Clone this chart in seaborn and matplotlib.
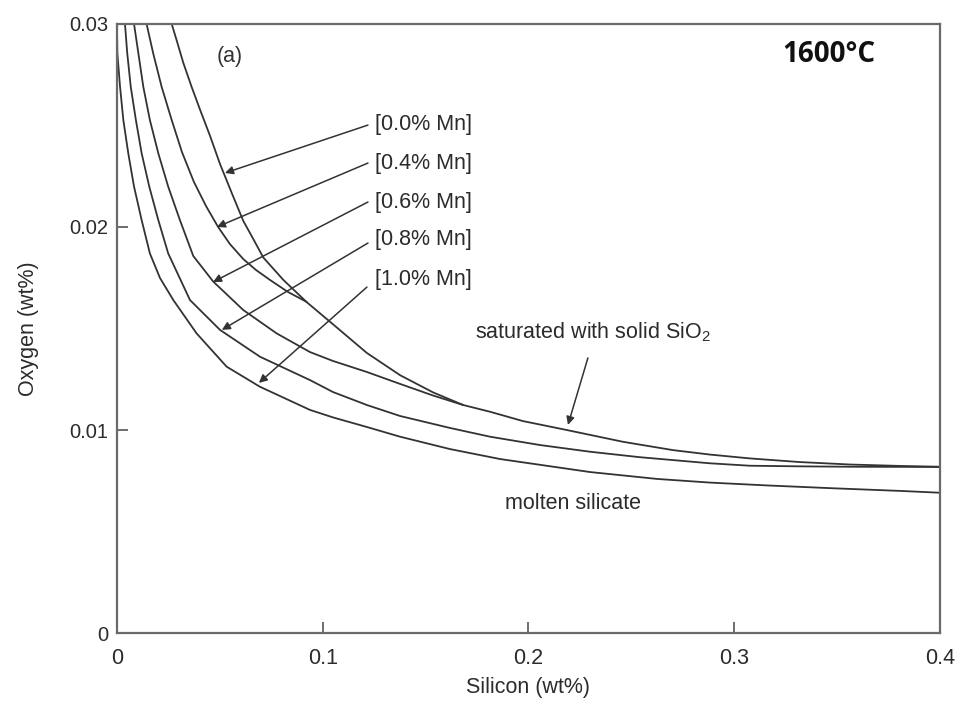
import matplotlib
matplotlib.use("Agg")
import matplotlib.pyplot as plt
from matplotlib import font_manager
import numpy as np
import pandas as pd
import seaborn as sns

# values: Si (wt%) and O (wt%) along each curve
si_mn00 = [0.0266, 0.0290, 0.0322, 0.0363, 0.0403, 0.0452, 0.0501, 0.0565, 0.0614, 0.0663,
           0.0711, 0.0808, 0.0922, 0.1051, 0.1214, 0.1376, 0.1537, 0.1683, 0.1813, 0.1973,
           0.2186, 0.2459, 0.2702, 0.2882, 0.3077, 0.3320, 0.3563, 0.3806, 0.4000]
o_mn00 = [0.0300, 0.0292, 0.0281, 0.0269, 0.0258, 0.0245, 0.0231, 0.0215, 0.0203, 0.0194,
          0.0185, 0.0174, 0.0163, 0.0152, 0.0138, 0.0127, 0.01185, 0.01123, 0.0109, 0.01044,
          0.0100, 0.00942, 0.00901, 0.00879, 0.0086, 0.00842, 0.0083, 0.00823, 0.00819]

si_mn04 = [0.0144, 0.0176, 0.0217, 0.0266, 0.0316, 0.0374, 0.0433, 0.0491, 0.0549, 0.0614,
           0.0676, 0.0744, 0.0831, 0.0922]
o_mn04 = [0.0300, 0.02856, 0.02691, 0.02527, 0.02369, 0.02222, 0.02103, 0.02001, 0.01916, 0.01842,
          0.01788, 0.01739, 0.0168, 0.01631]

si_mn06 = [0.0083, 0.0104, 0.0128, 0.0160, 0.0201, 0.0249, 0.0306, 0.0371, 0.0468, 0.0614,
           0.0776, 0.0938, 0.1050, 0.1214, 0.1376, 0.1536, 0.1683]
o_mn06 = [0.0300, 0.02856, 0.02691, 0.02527, 0.02363, 0.02199, 0.02034, 0.01857, 0.01731, 0.01591,
          0.01476, 0.01384, 0.0134, 0.01286, 0.01227, 0.0117, 0.01123]

si_mn08 = [0.0039, 0.0050, 0.0067, 0.0092, 0.0120, 0.0157, 0.0201, 0.0249, 0.0355, 0.0501,
           0.0695, 0.0938, 0.1050, 0.1215, 0.1376, 0.1619, 0.1813, 0.2056, 0.2299, 0.2542,
           0.2882, 0.3077, 0.3320, 0.3563, 0.4000]
o_mn08 = [0.0300, 0.02856, 0.02691, 0.02527, 0.02363, 0.02199, 0.02034, 0.0187, 0.0164, 0.01493,
          0.01361, 0.01246, 0.01187, 0.01123, 0.01069, 0.0101, 0.00967, 0.00926, 0.00893, 0.00866,
          0.00836, 0.00824, 0.00821, 0.00819, 0.00818]

si_mn10 = [0.0000, 0.0002, 0.0015, 0.0031, 0.0055, 0.0083, 0.0120, 0.0160, 0.0209, 0.0274,
           0.0387, 0.0533, 0.0695, 0.0938, 0.1050, 0.1214, 0.1376, 0.1619, 0.1862, 0.2299,
           0.2625, 0.2882, 0.3159, 0.3480, 0.3806, 0.4000]
o_mn10 = [0.0300, 0.02856, 0.02691, 0.02527, 0.02363, 0.02199, 0.02034, 0.0187, 0.01749, 0.0164,
          0.01476, 0.01312, 0.01213, 0.01099, 0.01062, 0.01015, 0.00967, 0.00906, 0.00857, 0.00793,
          0.00759, 0.00741, 0.00727, 0.00713, 0.0070, 0.00691]

mn_labels = ["[0.0% Mn]", "[0.4% Mn]", "[0.6% Mn]", "[0.8% Mn]", "[1.0% Mn]"]
x_ticks = [0, 0.1, 0.2, 0.3, 0.4]
x_ticklabels = ["0", "0.1", "0.2", "0.3", "0.4"]
y_ticks = [0, 0.01, 0.02, 0.03]
y_ticklabels = ["0", "0.01", "0.02", "0.03"]

curves = [(si_mn00, o_mn00), (si_mn04, o_mn04), (si_mn06, o_mn06), (si_mn08, o_mn08), (si_mn10, o_mn10)]
frames = []
for lab, (si, o) in zip(mn_labels, curves):
    frames.append(pd.DataFrame({"Si": si, "O": o, "curve": lab}))
df = pd.concat(frames, ignore_index=True)

sns.set_theme(style="white")
names = {f.name for f in font_manager.fontManager.ttflist}
narrow = "Liberation Sans Narrow" if "Liberation Sans Narrow" in names else "Liberation Sans"
plt.rcParams["font.family"] = ["Liberation Sans", "DejaVu Sans"]
plt.rcParams["mathtext.fontset"] = "custom"
plt.rcParams["mathtext.rm"] = "Liberation Sans"

ink = "#2b2b2b"
fig = plt.figure(figsize=(9.61, 7.05), dpi=100)
ax = fig.add_axes([0.1217, 0.1021, 0.8564, 0.8639])

sns.lineplot(data=df, x="Si", y="O", units="curve", estimator=None, sort=False,
             color="#333333", linewidth=1.3, ax=ax, legend=False)

ax.set_xlim(0, 0.4)
ax.set_ylim(0, 0.03)
ax.set_xticks(x_ticks)
ax.set_xticklabels(x_ticklabels, family=[narrow, "DejaVu Sans"], fontsize=15.5, color=ink)
ax.set_yticks(y_ticks)
ax.set_yticklabels(y_ticklabels, fontsize=14.5, color=ink)
ax.tick_params(axis="x", direction="in", length=8, width=1.2, color="#555555", pad=11,
               top=False, bottom=True)
ax.tick_params(axis="y", direction="in", length=8, width=1.2, color="#555555", pad=6,
               left=True, right=False)
for sp in ax.spines.values():
    sp.set_color("#6a6a6a")
    sp.set_linewidth(1.6)

ax.set_xlabel("Silicon (wt%)", family=[narrow, "DejaVu Sans"], fontsize=15.5, color=ink)
ax.set_ylabel("Oxygen (wt%)", family=[narrow, "DejaVu Sans"], fontsize=15.5, color=ink)
ax.xaxis.set_label_coords(0.5, -0.072)
ax.yaxis.set_label_coords(-0.095, 0.50)

# labels and arrows pointing at the iso-Mn curves
label_pos = [(0.1254, 0.02507), (0.1254, 0.02315), (0.1254, 0.02123), (0.1254, 0.01936), (0.1254, 0.01739)]
arrow_tail = [(0.1220, 0.02502), (0.1220, 0.02315), (0.1220, 0.02123), (0.1220, 0.01921), (0.1215, 0.01704)]
arrow_tip = [(0.0525, 0.02266), (0.0486, 0.02000), (0.0467, 0.01729), (0.0510, 0.01493), (0.0690, 0.01232)]
arrow_kw = dict(arrowstyle="-|>", color="#333333", lw=1.1, mutation_scale=12, shrinkA=0, shrinkB=0)
for lab, p, t, h in zip(mn_labels, label_pos, arrow_tail, arrow_tip):
    ax.text(p[0], p[1], lab, fontsize=15.5, color=ink, ha="left", va="center")
    ax.annotate("", xy=h, xytext=t, arrowprops=arrow_kw)

ax.text(0.1740, 0.01483, r"saturated with solid SiO$_2$", fontsize=15.5, color=ink, ha="left", va="center")
ax.annotate("", xy=(0.2192, 0.01025), xytext=(0.2289, 0.01355), arrowprops=arrow_kw)
ax.text(0.1886, 0.00640, "molten silicate", fontsize=15.5, color=ink, ha="left", va="center")

ax.text(0.0485, 0.02842, "(a)", fontsize=15.5, color="#333333", ha="left", va="center")
ax.text(0.3461, 0.0285, "1600°C", family=["Open Sans", "DejaVu Sans"], fontweight="bold",
        fontsize=20, color="#111111", ha="center", va="center")

fig.savefig("out.png", dpi=100, facecolor="white")
